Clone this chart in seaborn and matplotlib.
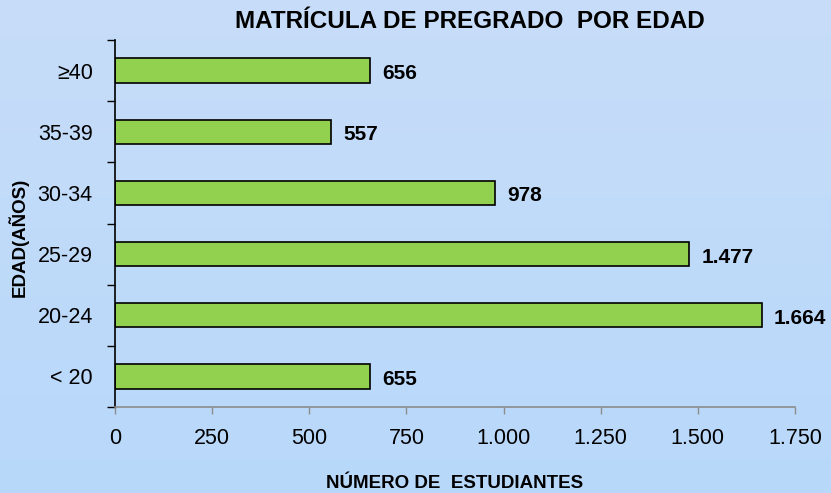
import numpy as np
import pandas as pd
import matplotlib
matplotlib.use("Agg")
import matplotlib.pyplot as plt
import seaborn as sns

# Undergraduate enrollment by age group
age_groups = ["≥40", "35-39", "30-34", "25-29", "20-24", "< 20"]
students = [656, 557, 978, 1477, 1664, 655]
x_ticks = [0, 250, 500, 750, 1000, 1250, 1500, 1750]

def es_fmt(v):
    return f"{v:,.0f}".replace(",", ".")

sns.set_style("white")
plt.rcParams["font.family"] = ["Liberation Sans", "DejaVu Sans"]
plt.rcParams["text.color"] = "black"
plt.rcParams["xtick.color"] = "black"
plt.rcParams["ytick.color"] = "black"

df = pd.DataFrame({"edad": age_groups, "n": students})

fig = plt.figure(figsize=(8.31, 4.93), dpi=100)

# soft vertical background gradient
bg = fig.add_axes([0, 0, 1, 1], zorder=-10)
grad = np.linspace(0, 1, 256).reshape(-1, 1)
top = np.array([199, 221, 248]) / 255
bot = np.array([184, 216, 251]) / 255
img = top[None, None, :] * (1 - grad[..., None]) + bot[None, None, :] * grad[..., None]
bg.imshow(img, aspect="auto", extent=[0, 1, 0, 1])
bg.axis("off")

ax = fig.add_axes([115 / 831, 1 - 407 / 493, 680 / 831, 367 / 493])
ax.patch.set_alpha(0)

sns.barplot(data=df, y="edad", x="n", order=age_groups, color="#92D050",
            saturation=1, width=0.4, edgecolor="black", linewidth=1.2, ax=ax)

ax.set_xlim(0, 1750)
ax.set_ylim(len(age_groups) - 0.5, -0.5)

for i, v in enumerate(students):
    ax.text(v + 32, i + 0.05, es_fmt(v), va="center", ha="left",
            fontsize=15, fontweight="bold", color="black")

ax.set_xticks(x_ticks)
ax.set_xticklabels([es_fmt(t) for t in x_ticks], fontsize=15.5, color="black")
ax.tick_params(axis="x", bottom=True, direction="out", length=5, width=1,
               color="#8c8c8c", pad=10)

ax.set_yticks(range(len(age_groups)))
ax.set_yticklabels(age_groups, fontsize=15.5, color="black")
ax.tick_params(axis="y", which="major", left=True, length=0, pad=16)
ax.set_yticks(np.arange(-0.5, len(age_groups), 1), minor=True)
ax.tick_params(axis="y", which="minor", left=True, direction="out", length=6,
               width=1, color="black")

for s in ["top", "right"]:
    ax.spines[s].set_visible(False)
ax.spines["left"].set_color("black")
ax.spines["left"].set_linewidth(1.2)
ax.spines["bottom"].set_color("#8c8c8c")
ax.spines["bottom"].set_linewidth(1.2)

ax.set_xlabel("")
ax.set_ylabel("")

fig.text(470 / 831, 1 - 22 / 493, "MATRÍCULA DE PREGRADO  POR EDAD", ha="center",
         va="center", fontsize=17.5, fontweight="bold", color="black")
fig.text(455 / 831, 1 - 483 / 493, "NÚMERO DE  ESTUDIANTES", ha="center",
         va="center", fontsize=13.5, fontweight="bold", color="black")
fig.text(18 / 831, 1 - 237 / 493, "EDAD(AÑOS)", ha="center", va="center",
         rotation=90, fontsize=13.5, fontweight="bold", color="black")

fig.savefig("out.png", dpi=100)
